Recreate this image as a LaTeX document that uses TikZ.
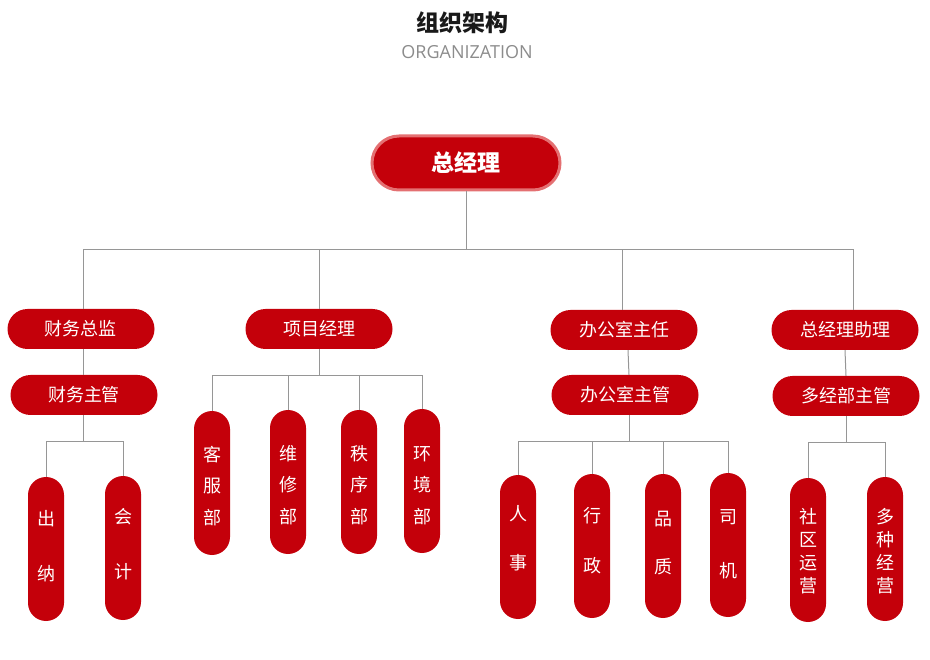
\documentclass[tikz,border=0pt]{standalone}
\usepackage{fontspec}
\setmainfont{Open Sans}
\newfontfamily\cjk{Noto Sans CJK SC}
\usetikzlibrary{positioning}
\definecolor{orgred}{RGB}{196,0,10}
\definecolor{orgedge}{RGB}{228,112,114}
\definecolor{orgline}{RGB}{150,150,150}
\definecolor{orggray}{RGB}{140,140,140}

\begin{document}
\begin{tikzpicture}[x=1pt,y=-1pt]
    \tikzset{
        head/.style={rectangle, rounded corners=27pt, fill=orgred, draw=orgedge, line width=3pt, minimum width=188pt, minimum height=54pt, text=white, inner sep=0pt, font=\cjk\bfseries\fontsize{23}{28}\selectfont},
        post/.style={rectangle, rounded corners=20pt, fill=orgred, minimum width=147pt, minimum height=40pt, text=white, inner sep=0pt, font=\cjk\fontsize{18}{22}\selectfont},
        unit/.style={rectangle, rounded corners=18pt, fill=orgred, minimum width=36pt, minimum height=144pt, text=white, align=center, inner sep=0pt, text depth=0pt, font=\cjk\fontsize{18}{#1}\selectfont},
        link/.style={draw=orgline, line width=1pt}
    }
    \useasboundingbox (0,0) rectangle (930,660);
    % title
    \node[font=\cjk\bfseries\fontsize{23}{28}\selectfont, text=black!90] (title) at (462,23) {组织架构};
    \node[font=\fontsize{18}{20}\selectfont, text=orggray] (subtitle) at (467,52) {ORGANIZATION};
    % top and second level
    \node[head] (gm) at (466,163) {总经理};
    \node[post] (cw) at (81,329) {财务总监};
    \node[post] (pm) at (319,329) {项目经理};
    \node[post] (om) at (624,330) {办公室主任};
    \node[post] (ga) at (845,330) {总经理助理};
    \node[post] (cwsup) at (84,395) {财务主管};
    \node[post] (omsup) at (625,395) {办公室主管};
    \node[post] (gasup) at (846,396) {多经部主管};
    % units
    \node[unit=55pt, text height=63.7pt] (cn) at (46,549) {出\\纳};
    \node[unit=55pt, text height=61.7pt] (kj) at (123,548) {会\\计};
    \node[unit=31.5pt, text height=82pt] (kf) at (212,483) {客\\服\\部};
    \node[unit=31.5pt, text height=82.5pt] (wx) at (288,482) {维\\修\\部};
    \node[unit=31.5pt, text height=82.5pt] (zx) at (359,482) {秩\\序\\部};
    \node[unit=31.5pt, text height=84pt] (hj) at (422,481) {环\\境\\部};
    \node[unit=49pt, text height=45.7pt] (rs) at (518,547) {人\\事};
    \node[unit=50pt, text height=53.7pt] (xz) at (592,546) {行\\政};
    \node[unit=48pt, text height=54.7pt] (pz) at (663,546) {品\\质};
    \node[unit=54pt, text height=65.7pt] (sj) at (728,545) {司\\机};
    \node[unit=23pt, text height=85.5pt] (sq) at (808,550) {社\\区\\运\\营};
    \node[unit=23pt, text height=87.5pt] (dz) at (885,549) {多\\种\\经\\营};
    % connectors
    \draw[link] (gm.south) -- ++(0,58) coordinate (j0);
    \draw[link] (j0) -| ([xshift=2pt]cw.north);
    \draw[link] (j0) -| (pm.north);
    \draw[link] (j0) -| ([xshift=-2pt]om.north);
    \draw[link] (j0) -| ([xshift=8pt]ga.north);
    \draw[link] ([xshift=2pt]cw.south) -- ([xshift=-1pt]cwsup.north);
    \draw[link] ([xshift=4pt]om.south) -- ([xshift=4pt]omsup.north);
    \draw[link] (ga.south) -- (gasup.north);
    \draw[link] ([xshift=-1pt]cwsup.south) -- ++(0,26) coordinate (j1);
    \draw[link] (j1) -| (cn.north);
    \draw[link] (j1) -| (kj.north);
    \draw[link] (pm.south) -- ++(0,26) coordinate (j2);
    \foreach \u in {kf,wx,zx,hj}
        \draw[link] (j2) -| (\u.north);
    \draw[link] ([xshift=4pt]omsup.south) -- ++(0,26) coordinate (j3);
    \foreach \u in {rs,xz,pz,sj}
        \draw[link] (j3) -| (\u.north);
    \draw[link] (gasup.south) -- ++(0,26) coordinate (j4);
    \draw[link] (j4) -| (sq.north);
    \draw[link] (j4) -| (dz.north);
\end{tikzpicture}
\end{document}
